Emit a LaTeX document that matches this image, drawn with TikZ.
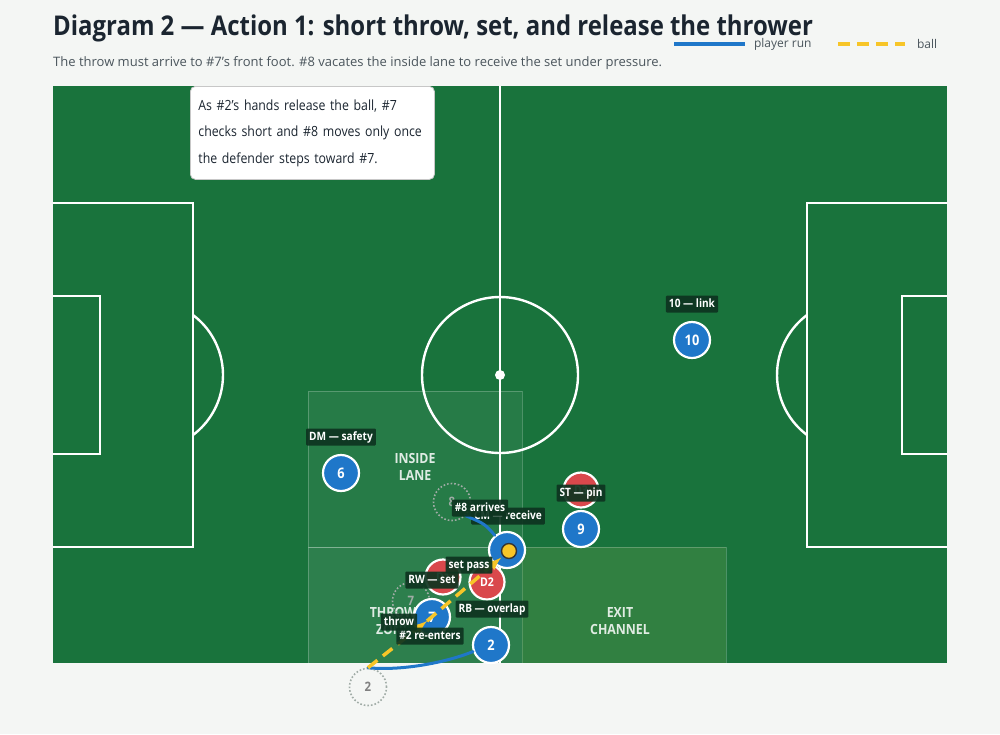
\documentclass[tikz,border=0pt]{standalone}
\usepackage{fontspec}
\setmainfont{Open Sans}
\newfontfamily\narrowsans{Open Sans}[FakeStretch=0.88]
\usetikzlibrary{arrows}
\definecolor{pagebg}{RGB}{244,246,244}
\definecolor{pitchgreen}{RGB}{25,115,60}
\definecolor{plblue}{RGB}{31,119,201}
\definecolor{defred}{RGB}{217,72,76}
\definecolor{tagbg}{RGB}{14,52,32}
\definecolor{ballyellow}{RGB}{247,197,40}
\definecolor{ghostgray}{RGB}{160,172,166}
\definecolor{titleink}{RGB}{27,37,48}
\definecolor{subink}{RGB}{74,85,92}
\definecolor{exittint}{RGB}{70,140,70}

\begin{document}
\begin{tikzpicture}[x=1pt,y=-1pt,
  pitchline/.style={white,line width=2.4pt},
  zone/.style={draw=white,draw opacity=0.12,line width=0.8pt},
  zonelabel/.style={white,text opacity=0.85,align=center,font=\narrowsans\fontsize{14}{17}\selectfont\bfseries},
  player/.style={circle,fill=plblue,draw=white,line width=2.2pt,minimum size=36pt,inner sep=0pt,text=white,font=\narrowsans\fontsize{14.5}{16}\selectfont\bfseries},
  defender/.style={circle,fill=defred,draw=white,line width=2.2pt,minimum size=35pt,inner sep=0pt,text=white,font=\narrowsans\fontsize{12}{14}\selectfont\bfseries},
  ghost/.style={circle,draw=ghostgray,dotted,line width=1.6pt,minimum size=37pt,inner sep=0pt,text=ghostgray,font=\narrowsans\fontsize{13}{15}\selectfont\bfseries},
  tag/.style={fill=tagbg,fill opacity=0.92,text opacity=1,text=white,rounded corners=1pt,inner xsep=3pt,inner ysep=3pt,text height=8.5pt,text depth=2.5pt,font=\narrowsans\fontsize{11.5}{13}\selectfont\bfseries},
  run/.style={plblue,line width=3pt,line cap=round},
  ballpass/.style={ballyellow,line width=3.5pt,dash pattern=on 12pt off 7pt,-latex}]
\pgfmathsetmacro{\pl}{53}
\pgfmathsetmacro{\pr}{947}
\pgfmathsetmacro{\pt}{86}
\pgfmathsetmacro{\pb}{663}
\fill[pagebg] (0,0) rectangle (1000,734);
\useasboundingbox (0,0) rectangle (1000,734);
\node[anchor=base west,text=titleink,font=\narrowsans\fontsize{27.2}{32}\selectfont\bfseries,inner sep=0pt] (title) at (53,35) {Diagram 2 — Action 1: short throw, set, and release the thrower};
\node[anchor=base west,text=subink,font=\fontsize{13}{16}\selectfont,inner sep=0pt] (subtitle) at (53,66) {The throw must arrive to \#7’s front foot. \#8 vacates the inside lane to receive the set under pressure.};
\coordinate (runa) at (674,44);
\coordinate (runb) at (745,44);
\coordinate (balla) at (838,44);
\coordinate (ballb) at (905,44);
\draw[plblue,line width=4pt] (runa) -- (runb) node[right,text=subink,font=\fontsize{12}{14}\selectfont,inner sep=0pt,xshift=7pt] (runkey) {player run};
\draw[ballyellow,line width=4pt,dash pattern=on 12pt off 7pt] (balla) -- (ballb) node[right,text=subink,font=\fontsize{12}{14}\selectfont,inner sep=0pt,xshift=10pt] (ballkey) {ball};
\fill[pitchgreen] (\pl,\pt) rectangle (\pr,\pb);
\draw[pitchline] (500,\pt) -- (500,\pb);
\draw[pitchline] (500,375) circle (78);
\fill[white] (500,375) circle (5);
\draw[pitchline] (\pl,203) -- (193,203) -- (193,547) -- (\pl,547);
\draw[pitchline] (\pl,296) -- (100,296) -- (100,454) -- (\pl,454);
\draw[pitchline] (148,375) ++(-53.13:75) arc (-53.13:53.13:75);
\draw[pitchline] (\pr,203) -- (807,203) -- (807,547) -- (\pr,547);
\draw[pitchline] (\pr,296) -- (902,296) -- (902,454) -- (\pr,454);
\draw[pitchline] (852,375) ++(126.87:75) arc (126.87:233.13:75);
\fill[zone,fill=white,fill opacity=0.06] (308,391) rectangle (522,547);
\fill[zone,fill=white,fill opacity=0.09] (308,547) rectangle (522,\pb);
\fill[zone,fill=exittint,fill opacity=0.55] (522,547) rectangle (726,\pb);
\draw[zone] (308,391) rectangle (522,547);
\draw[zone] (308,547) rectangle (726,\pb);
\node[zonelabel] (lanelbl) at (415,467) {INSIDE\\LANE};
\node[zonelabel] (throwlbl) at (393,621) {THROW\\ZONE};
\node[zonelabel] (exitlbl) at (620,621) {EXIT\\CHANNEL};
\node[fill=white,draw=black!22,line width=0.8pt,rounded corners=5pt,anchor=north west,minimum width=244pt,minimum height=93pt,text width=232pt,inner xsep=6pt,align=left,text=titleink,font=\narrowsans\fontsize{14}{26.5}\selectfont] (note) at (190,86) {\hspace*{2pt}As \#2’s hands release the ball, \#7\\\hspace*{2pt}checks short and \#8 moves only once\\\hspace*{2pt}the defender steps toward \#7.};
\node[ghost] (g8) at (452,502) {8};
\node[ghost] (g7) at (411,601) {7};
\node[ghost,text=black!50] (g2) at (368,687) {2};
\node[defender] (d3) at (581,490) {D3};
\node[defender] (d1) at (443,577) {D1};
\node[defender] (d2) at (487,582) {D2};
\node[player] (p10) at (692,340) {10};
\node[player] (p6) at (341,473) {6};
\node[player] (p9) at (581,529) {9};
\node[player] (p8) at (507,550) {};
\node[player] (p7) at (432,617) {7};
\node[player] (p2) at (491,645) {2};
\node[tag] (l10) at (692,304) {10 — link};
\node[tag] (l6) at (341,437) {DM — safety};
\node[tag] (l9) at (581,493) {ST — pin};
\node[tag] (l8) at (508,516) {CM — receive};
\node[tag] (l7) at (432,580) {RW — set};
\node[tag] (l2) at (492,609) {RB — overlap};
\draw[run] (g2.north) .. controls (400,671) and (445,663) .. (p2.200);
\draw[run] (g8.-45) .. controls (485,524) .. (p8.130);
\coordinate (t7) at (427,621);
\node[circle,fill=ballyellow,draw=black!80,line width=1.4pt,minimum size=15pt,inner sep=0pt] (ball) at (509,551) {};
\draw[ballpass] (g2.north) -- (t7);
\draw[ballpass,shorten >=2pt] (t7) -- (ball.220);
\node[tag] (a8) at (480,508) {\#8 arrives};
\node[tag] (aset) at (469,565) {set pass};
\node[tag] (athrow) at (399,622) {throw};
\node[tag] (a2) at (430,636) {\#2 re-enters};
\end{tikzpicture}
\end{document}
